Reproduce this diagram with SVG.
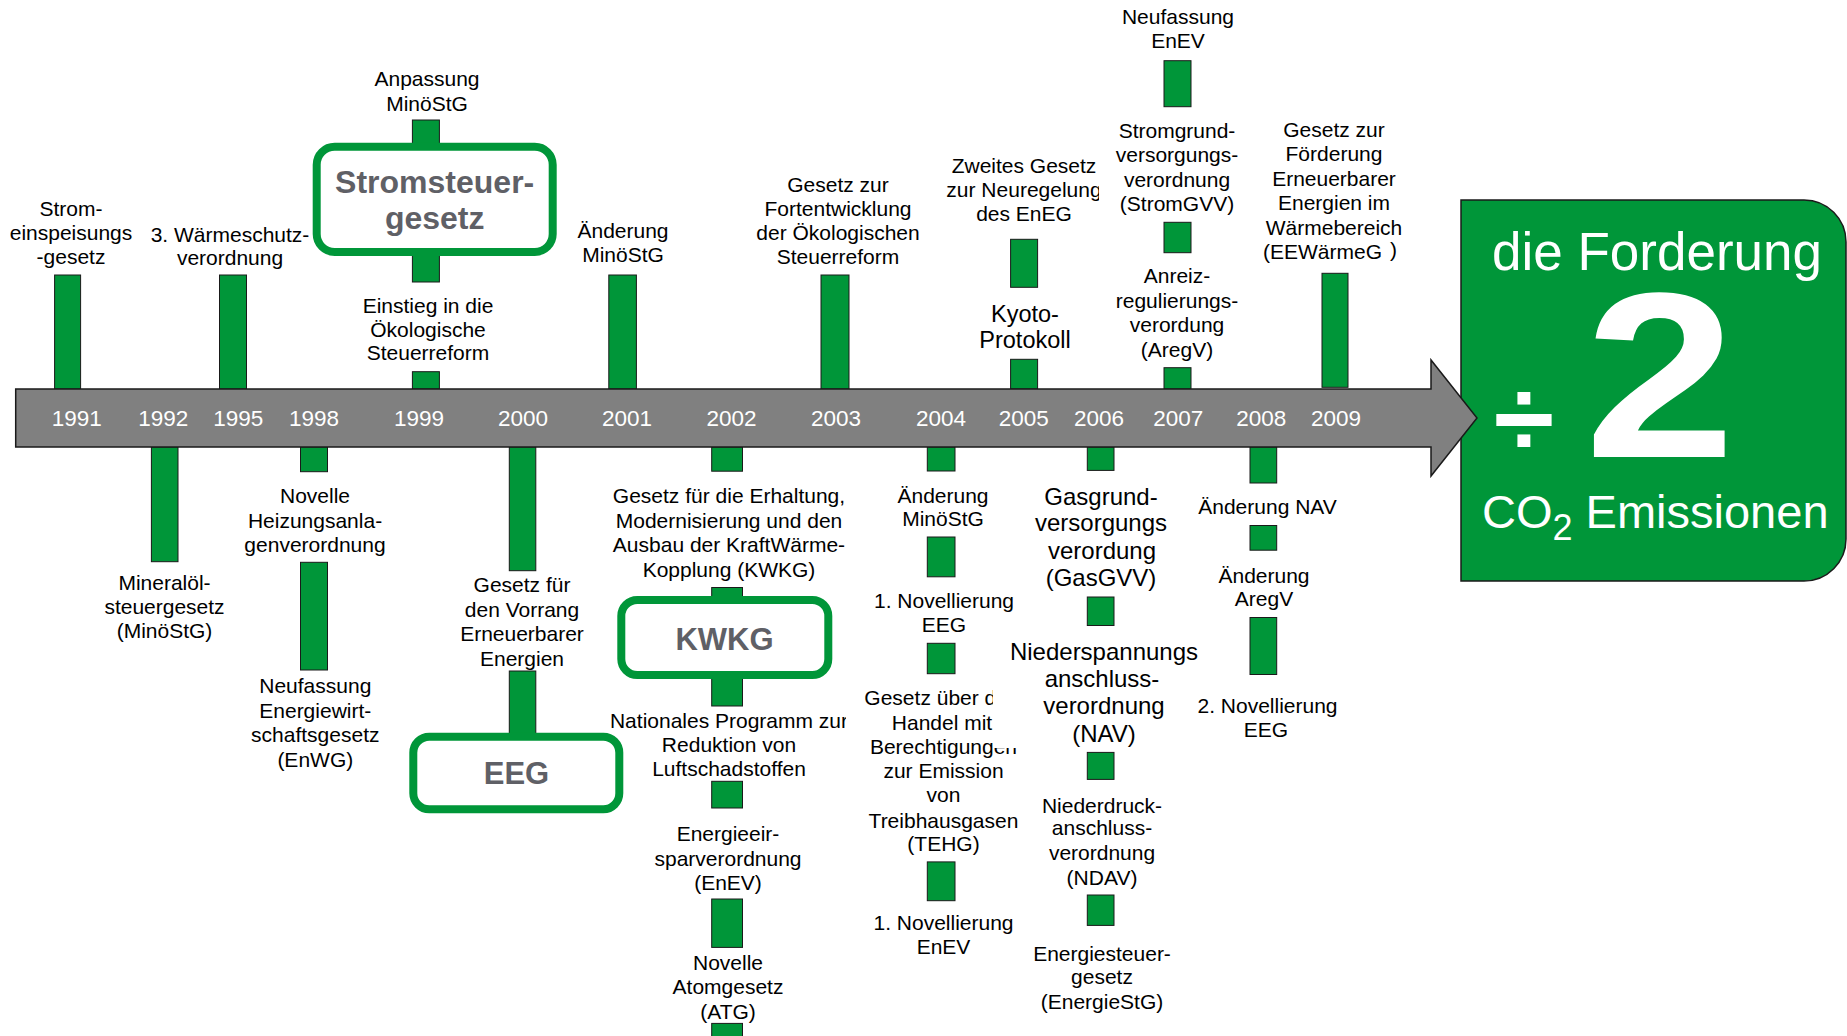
<svg xmlns="http://www.w3.org/2000/svg" width="1847" height="1036" viewBox="0 0 1847 1036">
<style>
.stem{fill:#009639;stroke:#1a1a1a;stroke-width:1}
.lbl{font-family:"Liberation Sans",Arial,sans-serif;font-size:21px;fill:#000;text-anchor:middle}
.l24{font-size:24px}
.l23{font-size:23.5px}
.yr{font-family:"Liberation Sans",Arial,sans-serif;font-size:22.5px;fill:#fff;text-anchor:middle}
.box{fill:#fff;stroke:#009639;stroke-width:8}
.boxt{font-family:"Liberation Sans",Arial,sans-serif;font-weight:bold;fill:#5f6066;text-anchor:middle}
.big{font-family:"Liberation Sans",Arial,sans-serif;fill:#fff}
</style>
<defs>
<clipPath id="clip2005"><rect x="0" y="0" width="1099" height="1036"/></clipPath>
<clipPath id="clipNat"><rect x="0" y="0" width="846" height="1036"/></clipPath>
<clipPath id="clipTEHG"><path d="M0,0 H993 V748 H1847 V1036 H0 Z"/></clipPath>
</defs>
<rect x="0" y="0" width="1847" height="1036" fill="#fff"/>

<g id="goal">
<path d="M1461,200 H1804 A42,42 0 0 1 1846,242 V539 A42,42 0 0 1 1804,581 H1461 Z" fill="#009639" stroke="#1a1a1a" stroke-width="1.5"/>
<text class="big" x="1657" y="270" font-size="53" text-anchor="middle">die Forderung</text>
<text class="big" x="1524" y="456" font-size="110" font-weight="bold" text-anchor="middle">÷</text>
<text class="big" font-size="236" font-weight="bold" text-anchor="middle" transform="translate(1660,457) scale(1.15,1)">2</text>
<text class="big" x="1482" y="528" font-size="47">CO<tspan font-size="36" dy="12">2</tspan><tspan dy="-12"> Emissionen</tspan></text>
</g>

<g id="connectors">
<rect class="stem" x="54.6" y="275" width="26" height="114"/>
<rect class="stem" x="219.5" y="275" width="27" height="114"/>
<rect class="stem" x="412.4" y="120" width="27" height="26"/>
<rect class="stem" x="412.4" y="252" width="27" height="30"/>
<rect class="stem" x="412.4" y="371.7" width="27" height="17.3"/>
<rect class="stem" x="608.8" y="275" width="27.6" height="114"/>
<rect class="stem" x="821" y="275" width="28" height="114"/>
<rect class="stem" x="1010.6" y="239.3" width="27" height="48"/>
<rect class="stem" x="1010.6" y="359.3" width="27" height="29.7"/>
<rect class="stem" x="1164" y="60.7" width="27" height="46"/>
<rect class="stem" x="1164" y="222.3" width="27" height="30.4"/>
<rect class="stem" x="1164" y="367.7" width="27" height="21.3"/>
<rect class="stem" x="1322" y="273.3" width="26" height="114"/>

<rect class="stem" x="151.4" y="447" width="26.6" height="114.7"/>
<rect class="stem" x="300.5" y="447" width="27" height="24.7"/>
<rect class="stem" x="300.5" y="562.3" width="27" height="107.7"/>
<rect class="stem" x="509.3" y="447" width="26.5" height="123.7"/>
<rect class="stem" x="509.3" y="671" width="26.5" height="66"/>
<rect class="stem" x="711.7" y="447" width="30.8" height="24.2"/>
<rect class="stem" x="711.7" y="587.5" width="30.8" height="12.5"/>
<rect class="stem" x="711.7" y="675" width="30.8" height="31"/>
<rect class="stem" x="711.7" y="781.3" width="30.8" height="26.7"/>
<rect class="stem" x="711.7" y="899" width="30.8" height="48.4"/>
<rect class="stem" x="711.7" y="1023.4" width="30.8" height="14"/>
<rect class="stem" x="927.3" y="447" width="27.7" height="24"/>
<rect class="stem" x="927.3" y="537" width="27.7" height="39.8"/>
<rect class="stem" x="927.3" y="643.3" width="27.7" height="30.4"/>
<rect class="stem" x="927.3" y="861.9" width="27.7" height="38.8"/>
<rect class="stem" x="1087.3" y="447" width="26.7" height="23.4"/>
<rect class="stem" x="1087.3" y="597" width="26.7" height="28.5"/>
<rect class="stem" x="1087.3" y="752.4" width="26.7" height="27"/>
<rect class="stem" x="1087.3" y="895" width="26.7" height="30.4"/>
<rect class="stem" x="1250" y="447" width="26.7" height="36"/>
<rect class="stem" x="1250" y="525.5" width="26.7" height="24.7"/>
<rect class="stem" x="1250" y="617.5" width="26.7" height="57"/>
</g>

<g id="timeline">
<polygon points="15.7,389 1431,389 1431,360 1477,418 1431,476 1431,447 15.7,447" fill="#808080" stroke="#1a1a1a" stroke-width="1.5"/>
<text class="yr" x="76.7" y="426">1991</text>
<text class="yr" x="163.3" y="426">1992</text>
<text class="yr" x="238.3" y="426">1995</text>
<text class="yr" x="314" y="426">1998</text>
<text class="yr" x="419" y="426">1999</text>
<text class="yr" x="523" y="426">2000</text>
<text class="yr" x="627" y="426">2001</text>
<text class="yr" x="731.5" y="426">2002</text>
<text class="yr" x="836" y="426">2003</text>
<text class="yr" x="941" y="426">2004</text>
<text class="yr" x="1023.7" y="426">2005</text>
<text class="yr" x="1099" y="426">2006</text>
<text class="yr" x="1178.3" y="426">2007</text>
<text class="yr" x="1261.3" y="426">2008</text>
<text class="yr" x="1336" y="426">2009</text>
</g>

<g id="n1991"><text class="lbl"><tspan x="71" y="215.7">Strom-</tspan><tspan x="71" y="240">einspeisungs</tspan><tspan x="71" y="264">-gesetz</tspan></text></g>
<g id="n1995"><text class="lbl"><tspan x="230" y="241.7">3. Wärmeschutz-</tspan><tspan x="230" y="265">verordnung</tspan></text></g>
<g id="n1999a"><text class="lbl"><tspan x="427" y="86">Anpassung</tspan><tspan x="427" y="110.7">MinöStG</tspan></text></g>
<g id="box-stromsteuer">
<rect class="box" x="316.7" y="146.7" width="236" height="105.3" rx="18"/>
<text class="boxt" font-size="32"><tspan x="434.7" y="193">Stromsteuer-</tspan><tspan x="434.7" y="229">gesetz</tspan></text>
</g>
<g id="n1999b"><text class="lbl"><tspan x="428" y="313">Einstieg in die</tspan><tspan x="428" y="336.7">Ökologische</tspan><tspan x="428" y="360">Steuerreform</tspan></text></g>
<g id="n2001"><text class="lbl"><tspan x="623" y="237.5">Änderung</tspan><tspan x="623" y="261.7">MinöStG</tspan></text></g>
<g id="n2003"><text class="lbl"><tspan x="838" y="191.5">Gesetz zur</tspan><tspan x="838" y="215.5">Fortentwicklung</tspan><tspan x="838" y="239.5">der Ökologischen</tspan><tspan x="838" y="263.5">Steuerreform</tspan></text></g>
<g id="n2005a" clip-path="url(#clip2005)"><text class="lbl"><tspan x="1024" y="173">Zweites Gesetz</tspan><tspan x="1024" y="197">zur Neuregelung</tspan><tspan x="1024" y="221">des EnEG</tspan></text></g>
<g id="n2005b"><text class="lbl l23"><tspan x="1025" y="322">Kyoto-</tspan><tspan x="1025" y="348">Protokoll</tspan></text></g>
<g id="n2007a"><text class="lbl"><tspan x="1178" y="24">Neufassung</tspan><tspan x="1178" y="48">EnEV</tspan></text></g>
<g id="n2007b"><text class="lbl"><tspan x="1177" y="138">Stromgrund-</tspan><tspan x="1177" y="162.3">versorgungs-</tspan><tspan x="1177" y="186.6">verordnung</tspan><tspan x="1177" y="211">(StromGVV)</tspan></text></g>
<g id="n2007c"><text class="lbl"><tspan x="1177" y="283.3">Anreiz-</tspan><tspan x="1177" y="308">regulierungs-</tspan><tspan x="1177" y="332">verordung</tspan><tspan x="1177" y="356.5">(AregV)</tspan></text></g>
<g id="n2009"><text class="lbl"><tspan x="1334" y="136.5">Gesetz zur</tspan><tspan x="1334" y="161">Förderung</tspan><tspan x="1334" y="185.5">Erneuerbarer</tspan><tspan x="1334" y="210">Energien im</tspan><tspan x="1334" y="234.5">Wärmebereich</tspan><tspan x="1330" y="259">(EEWärmeG</tspan><tspan dx="8" dy="-2">)</tspan></text></g>

<g id="n1992"><text class="lbl"><tspan x="164.5" y="590">Mineralöl-</tspan><tspan x="164.5" y="613.5">steuergesetz</tspan><tspan x="164.5" y="637.5">(MinöStG)</tspan></text></g>
<g id="n1998a"><text class="lbl"><tspan x="315" y="503.3">Novelle</tspan><tspan x="315" y="528">Heizungsanla-</tspan><tspan x="315" y="552">genverordnung</tspan></text></g>
<g id="n1998b"><text class="lbl"><tspan x="315.3" y="693.3">Neufassung</tspan><tspan x="315.3" y="718">Energiewirt-</tspan><tspan x="315.3" y="742">schaftsgesetz</tspan><tspan x="315.3" y="766.7">(EnWG)</tspan></text></g>
<g id="n2000"><text class="lbl"><tspan x="522" y="592.3">Gesetz für</tspan><tspan x="522" y="616.5">den Vorrang</tspan><tspan x="522" y="640.7">Erneuerbarer</tspan><tspan x="522" y="665.5">Energien</tspan></text></g>
<g id="box-eeg">
<rect class="box" x="413.3" y="736.7" width="206" height="72.6" rx="16"/>
<text class="boxt" font-size="31" x="516.5" y="784">EEG</text>
</g>
<g id="n2002a"><text class="lbl"><tspan x="729" y="503">Gesetz für die Erhaltung,</tspan><tspan x="729" y="527.5">Modernisierung und den</tspan><tspan x="729" y="552">Ausbau der KraftWärme-</tspan><tspan x="729" y="576.5">Kopplung (KWKG)</tspan></text></g>
<g id="box-kwkg">
<rect class="box" x="621.3" y="600" width="207" height="75" rx="16"/>
<text class="boxt" font-size="31" x="724.5" y="650">KWKG</text>
</g>
<g id="n2002b" clip-path="url(#clipNat)"><text class="lbl"><tspan x="729" y="727.7">Nationales Programm zur</tspan><tspan x="729" y="752.4">Reduktion von</tspan><tspan x="729" y="776.4">Luftschadstoffen</tspan></text></g>
<g id="n2002c"><text class="lbl"><tspan x="728" y="841">Energieeir-</tspan><tspan x="728" y="865.7">sparverordnung</tspan><tspan x="728" y="889.6">(EnEV)</tspan></text></g>
<g id="n2002d"><text class="lbl"><tspan x="728" y="969.5">Novelle</tspan><tspan x="728" y="993.8">Atomgesetz</tspan><tspan x="728" y="1018.5">(ATG)</tspan></text></g>
<g id="n2004a"><text class="lbl"><tspan x="943" y="502.7">Änderung</tspan><tspan x="943" y="525.5">MinöStG</tspan></text></g>
<g id="n2004b"><text class="lbl"><tspan x="944" y="608.4">1. Novellierung</tspan><tspan x="944" y="632">EEG</tspan></text></g>
<g id="n2004c" clip-path="url(#clipTEHG)"><text class="lbl"><tspan x="942" y="705.3">Gesetz über den</tspan><tspan x="942" y="729.6">Handel mit</tspan><tspan x="943.5" y="753.6">Berechtigungen</tspan><tspan x="943.5" y="778.3">zur Emission</tspan><tspan x="943.5" y="802.2">von</tspan><tspan x="943.5" y="827.7">Treibhausgasen</tspan><tspan x="943.5" y="851.3">(TEHG)</tspan></text></g>
<g id="n2004d"><text class="lbl"><tspan x="943.5" y="930.3">1. Novellierung</tspan><tspan x="943.5" y="953.9">EnEV</tspan></text></g>
<g id="n2006a"><text class="lbl l24"><tspan x="1101" y="504.6">Gasgrund-</tspan><tspan x="1101" y="531.2">versorgungs</tspan><tspan x="1102" y="558.6">verordung</tspan><tspan x="1101" y="586.3">(GasGVV)</tspan></text></g>
<g id="n2006b"><text class="lbl l24"><tspan x="1104" y="659.7">Niederspannungs</tspan><tspan x="1102" y="687">anschluss-</tspan><tspan x="1104" y="714.4">verordnung</tspan><tspan x="1104" y="742.2">(NAV)</tspan></text></g>
<g id="n2006c"><text class="lbl"><tspan x="1102" y="812.5">Niederdruck-</tspan><tspan x="1102" y="835.3">anschluss-</tspan><tspan x="1102" y="860">verordnung</tspan><tspan x="1102" y="884.7">(NDAV)</tspan></text></g>
<g id="n2006d"><text class="lbl"><tspan x="1102" y="960.7">Energiesteuer-</tspan><tspan x="1102" y="984.3">gesetz</tspan><tspan x="1102" y="1009">(EnergieStG)</tspan></text></g>
<g id="n2008a"><text class="lbl"><tspan x="1267.5" y="514">Änderung NAV</tspan></text></g>
<g id="n2008b"><text class="lbl"><tspan x="1264" y="582.5">Änderung</tspan><tspan x="1264" y="606.1">AregV</tspan></text></g>
<g id="n2008c"><text class="lbl"><tspan x="1267.5" y="712.9">2. Novellierung</tspan><tspan x="1266" y="736.5">EEG</tspan></text></g>
</svg>
